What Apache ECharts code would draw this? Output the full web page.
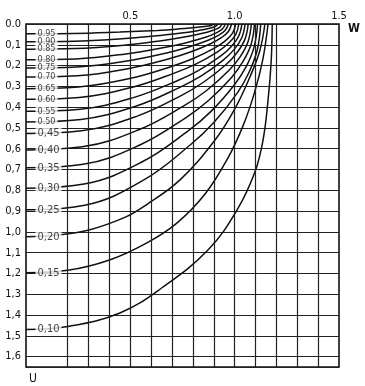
<!DOCTYPE html>
<html>
<head>
<meta charset="utf-8">
<script src="https://cdn.jsdelivr.net/npm/echarts@6/dist/echarts.min.js"></script>
<style>
html,body{margin:0;padding:0;background:#fff;}
#chart{width:365px;height:386px;}
</style>
</head>
<body>
<div id="chart"></div>
<script>
// curve labels (parameter value of each curve), as printed
const curveNames = ['0.95','0.90','0.85','0.80','0.75','0.70','0.65','0.60','0.55','0.50','0,45','0,40','0,35','0,30','0,25','0,20','0,15','0,10'];

// each curve: [W, U] points
const c095 = [[0,0.047],[0.225,0.046],[0.45,0.039],[0.63,0.031],[0.72,0.025],[0.81,0.017],[0.855,0.012],[0.887,0.007],[0.90,0]];
const c090 = [[0,0.085],[0.23,0.083],[0.46,0.071],[0.644,0.055],[0.736,0.045],[0.828,0.031],[0.874,0.022],[0.906,0.012],[0.92,0]];
const c085 = [[0,0.121],[0.235,0.118],[0.47,0.102],[0.658,0.079],[0.752,0.064],[0.846,0.045],[0.893,0.031],[0.926,0.017],[0.94,0]];
const c080 = [[0,0.172],[0.239,0.168],[0.478,0.144],[0.669,0.112],[0.764,0.091],[0.86,0.064],[0.907,0.045],[0.941,0.024],[0.955,0]];
const c075 = [[0,0.212],[0.243,0.207],[0.485,0.178],[0.679,0.138],[0.776,0.112],[0.873,0.078],[0.922,0.055],[0.955,0.030],[0.97,0]];
const c070 = [[0,0.255],[0.246,0.249],[0.493,0.214],[0.69,0.166],[0.788,0.135],[0.887,0.094],[0.936,0.066],[0.97,0.036],[0.985,0]];
const c065 = [[0,0.311],[0.251,0.303],[0.503,0.261],[0.704,0.202],[0.804,0.165],[0.905,0.115],[0.955,0.081],[0.99,0.044],[1.005,0]];
const c060 = [[0,0.362],[0.255,0.353],[0.51,0.304],[0.714,0.235],[0.816,0.192],[0.918,0.134],[0.969,0.094],[1.005,0.051],[1.02,0]];
const c055 = [[0,0.420],[0.259,0.41],[0.518,0.353],[0.725,0.273],[0.828,0.223],[0.932,0.155],[0.983,0.109],[1.019,0.059],[1.035,0]];
const c050 = [[0,0.471],[0.263,0.459],[0.525,0.396],[0.735,0.306],[0.84,0.25],[0.945,0.174],[0.998,0.122],[1.034,0.066],[1.05,0]];
const c045 = [[0,0.527],[0.266,0.514],[0.533,0.443],[0.746,0.343],[0.852,0.279],[0.959,0.195],[1.012,0.137],[1.049,0.074],[1.065,0]];
const c040 = [[0,0.606],[0.27,0.591],[0.54,0.509],[0.756,0.394],[0.864,0.321],[0.972,0.224],[1.026,0.158],[1.064,0.085],[1.08,0]];
const c035 = [[0,0.692],[0.274,0.675],[0.548,0.581],[0.767,0.45],[0.876,0.367],[0.986,0.256],[1.04,0.18],[1.079,0.097],[1.095,0]];
const c030 = [[0,0.790],[0.278,0.770],[0.555,0.664],[0.777,0.514],[0.888,0.419],[0.999,0.292],[1.055,0.205],[1.093,0.111],[1.11,0]];
const c025 = [[0,0.894],[0.281,0.872],[0.563,0.751],[0.788,0.581],[0.90,0.474],[1.013,0.331],[1.069,0.232],[1.108,0.125],[1.125,0]];
const c020 = [[0,1.024],[0.15,1.015],[0.302,0.991],[0.479,0.928],[0.575,0.871],[0.738,0.75],[0.906,0.558],[1.0,0.41],[1.075,0.25],[1.12,0.13],[1.145,0]];
const c015 = [[0,1.197],[0.2,1.185],[0.4,1.135],[0.575,1.055],[0.72,0.96],[0.86,0.815],[0.97,0.64],[1.04,0.49],[1.095,0.33],[1.135,0.17],[1.16,0]];
const c010 = [[0,1.47],[0.2,1.455],[0.45,1.39],[0.65,1.27],[0.872,1.087],[1.011,0.895],[1.097,0.712],[1.136,0.558],[1.16,0.366],[1.175,0.18],[1.18,0]];

const curves = [c095,c090,c085,c080,c075,c070,c065,c060,c055,c050,c045,c040,c035,c030,c025,c020,c015,c010];

// axis ticks
const yTickLabels = ['0.0','0,1','0,2','0,3','0,4','0,5','0,6','0,7','0,8','0,9','1,0','1,1','1,2','1,3','1,4','1,5','1,6'];
const xTickValues = [0.5, 1.0, 1.5];
const xTickLabels = ['0.5', '1.0', '1.5'];
const xGridLines = [0.2,0.3,0.4,0.5,0.6,0.7,0.8,0.9,1.0,1.1,1.2,1.3,1.4];

const FONT = "'DejaVu Sans Condensed', 'Liberation Sans Narrow', sans-serif";
const chart = echarts.init(document.getElementById('chart'), null, {renderer:'canvas'});

const series = curves.map((pts) => ({
  type: 'line',
  data: pts,
  smooth: 0.4,
  showSymbol: false,
  silent: true,
  z: 3,
  lineStyle: {color: '#111', width: 1.5}
}));

series.push({
  type: 'scatter',
  silent: true,
  z: 5,
  symbolSize: 1,
  itemStyle: {color: 'rgba(0,0,0,0)'},
  data: curves.map((pts, i) => ({
    value: [pts[0][0], pts[0][1], curveNames[i]],
    label: {fontSize: i >= 10 ? 11 : 9, lineHeight: i >= 10 ? 11 : 9}
  })),
  label: {
    show: true,
    position: 'right',
    distance: 9,
    formatter: (p) => p.value[2],
    fontFamily: FONT,
    color: '#111',
    backgroundColor: '#fff',
    padding: [0, 2, 0, 2]
  }
});

series.push({
  type: 'line',
  data: [],
  silent: true,
  z: 1,
  markLine: {
    silent: true,
    symbol: 'none',
    animation: false,
    label: {show: false},
    lineStyle: {color: '#222', width: 1.2, type: 'solid'},
    data: xGridLines.map(v => ({xAxis: v}))
  }
});

chart.setOption({
  animation: false,
  backgroundColor: '#fff',
  grid: {left: 26, top: 24, right: 26, bottom: 19, show: true, borderColor: '#111', borderWidth: 1.6, backgroundColor: 'transparent'},
  xAxis: {
    type: 'value', position: 'top', min: 0, max: 1.5, interval: 0.1,
    axisLine: {show: false}, axisTick: {show: false},
    splitLine: {show: false},
    axisLabel: {
      margin: 2, fontFamily: FONT, fontSize: 11, color: '#111',
      formatter: (v) => {
        const k = xTickValues.findIndex(t => Math.abs(t - v) < 1e-6);
        return k >= 0 ? xTickLabels[k] : '';
      }
    },
    name: 'W', nameLocation: 'end', nameGap: 9,
    nameTextStyle: {fontFamily: FONT, fontSize: 12, fontWeight: 'bold', color: '#111', verticalAlign: 'top', lineHeight: 9}
  },
  yAxis: {
    type: 'value', inverse: true, min: 0, max: 1.65, interval: 0.1,
    axisLine: {show: false}, axisTick: {show: false},
    splitLine: {show: true, lineStyle: {color: '#222', width: 1.2}},
    axisLabel: {
      margin: 5, fontFamily: FONT, fontSize: 11, color: '#111',
      formatter: (v) => {
        const k = Math.round(v * 10);
        return Math.abs(v * 10 - k) < 1e-6 ? (yTickLabels[k] || '') : '';
      }
    },
    name: 'U', nameLocation: 'end', nameGap: 6,
    nameTextStyle: {fontFamily: FONT, fontSize: 12, color: '#111', padding: [0, 0, 0, 14]}
  },
  series: series
});
</script>
</body>
</html>
